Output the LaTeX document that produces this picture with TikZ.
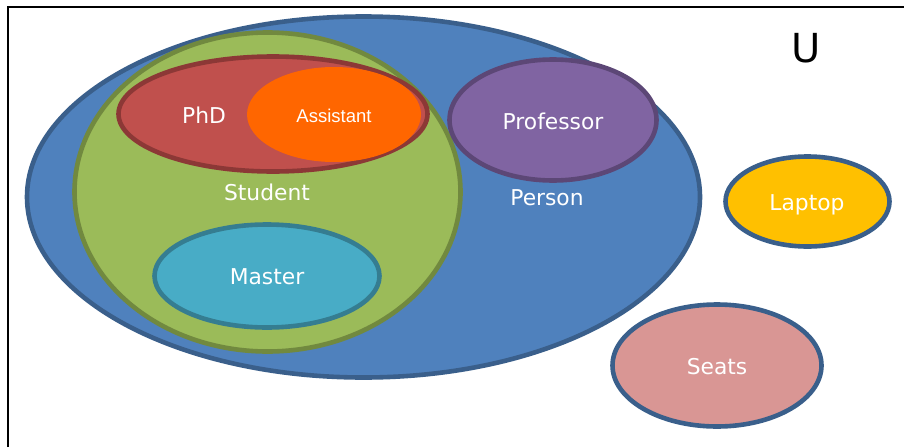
\documentclass[tikz,border=0pt]{standalone}
\usepackage{fontspec}
\setmainfont{DejaVu Sans}
\newfontfamily\arialfont{Liberation Sans}
\usetikzlibrary{shapes.geometric}
\definecolor{personfill}{HTML}{4F81BD}
\definecolor{blueline}{HTML}{3A5F8B}
\definecolor{studentfill}{HTML}{9BBB59}
\definecolor{studentline}{HTML}{71893F}
\definecolor{phdfill}{HTML}{C0504D}
\definecolor{phdline}{HTML}{8C3836}
\definecolor{assistfill}{HTML}{FF6600}
\definecolor{proffill}{HTML}{8064A2}
\definecolor{profline}{HTML}{5C4776}
\definecolor{masterfill}{HTML}{48ACC6}
\definecolor{masterline}{HTML}{357D91}
\definecolor{laptopfill}{HTML}{FFC000}
\definecolor{seatsfill}{HTML}{D99694}
\tikzset{
  setshape/.style={ellipse, inner sep=0pt, line width=4.6pt},
  lbl/.style={text=white, font=\fontsize{21.8}{24}\selectfont, inner sep=0pt, anchor=center},
}
\begin{document}
\begin{tikzpicture}[x=1pt,y=-1pt]
\useasboundingbox (0,0) rectangle (904,447);
\draw[line width=2.5pt] (8,447) -- (8,7) -- (904,7);
% sets
\node[setshape, draw=blueline, fill=personfill, minimum width=673pt, minimum height=361pt] (person) at (363.5,197) {};
\node[setshape, draw=studentline, fill=studentfill, minimum width=386pt, minimum height=319pt] (student) at (267.5,192) {};
\node[setshape, draw=phdline, fill=phdfill, minimum width=309pt, minimum height=115pt] (phd) at (273,114) {};
\node[ellipse, inner sep=0pt, fill=assistfill, minimum width=174pt, minimum height=95pt] (assistant) at (334,114.5) {};
\node[setshape, draw=profline, fill=proffill, minimum width=207pt, minimum height=121pt] (professor) at (553,120) {};
\node[setshape, draw=masterline, fill=masterfill, minimum width=225pt, minimum height=103pt] (master) at (267,276) {};
\node[setshape, draw=blueline, fill=laptopfill, minimum width=164pt, minimum height=90pt] (laptop) at (807.5,201.5) {};
\node[setshape, draw=blueline, fill=seatsfill, minimum width=209pt, minimum height=122pt] (seats) at (717,365.5) {};
% labels
\node[lbl] (phdlbl) at (204,115) {PhD};
\node[lbl, font=\arialfont\fontsize{18.5}{22}\selectfont] (assistlbl) at (334,116) {Assistant};
\node[lbl] (studentlbl) at (267,192) {Student};
\node[lbl] (personlbl) at (547,198) {Person};
\node[lbl] (proflbl) at (553,121) {Professor};
\node[lbl] (masterlbl) at (267,277) {Master};
\node[lbl] (laptoplbl) at (807,205) {Laptop};
\node[lbl] (seatslbl) at (717,367) {Seats};
\node[text=black, font=\fontsize{40}{44}\selectfont, inner sep=0pt] (ulbl) at (806,48) {U};
\end{tikzpicture}
\end{document}
